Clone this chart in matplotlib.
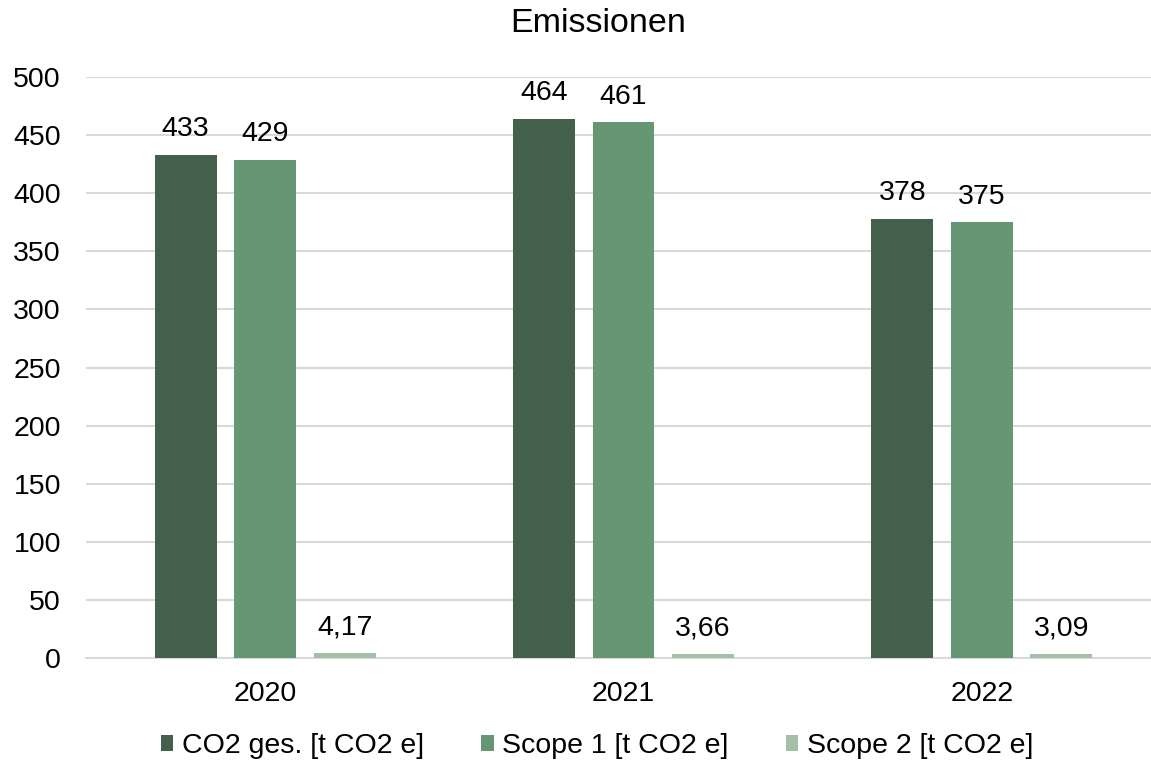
import matplotlib
matplotlib.use("Agg")
import matplotlib.pyplot as plt
import numpy as np

plt.rcParams['font.family'] = ['Liberation Sans', 'DejaVu Sans']

years = ["2020", "2021", "2022"]
series_names = ["CO2 ges. [t CO2 e]", "Scope 1 [t CO2 e]", "Scope 2 [t CO2 e]"]
co2_total = [433, 464, 378]
scope1 = [429, 461, 375]
scope2 = [4.17, 3.66, 3.09]
label_total = ["433", "464", "378"]
label_scope1 = ["429", "461", "375"]
label_scope2 = ["4,17", "3,66", "3,09"]
colors = ["#43614A", "#669673", "#A3BFA8"]

W, H = 1151, 766
fig = plt.figure(figsize=(W / 100, H / 100), dpi=100)
left, right, bottom, top = 86, 1161, 658, 77
ax = fig.add_axes([left / W, 1 - bottom / H, (right - left) / W, (bottom - top) / H])

FS = 20.5
x = np.arange(len(years))
bw = 0.173
step = 0.222
data = [co2_total, scope1, scope2]
labels = [label_total, label_scope1, label_scope2]
for i, (vals, labs, c, name) in enumerate(zip(data, labels, colors, series_names)):
    bars = ax.bar(x + (i - 1) * step, vals, width=bw, color=c, label=name, zorder=3)
    for b, lab in zip(bars, labs):
        ax.annotate(lab, (b.get_x() + b.get_width() / 2, b.get_height()),
                    xytext=(0, 9), textcoords='offset points',
                    ha='center', va='bottom', fontsize=FS, color='#000000')

ax.set_xlim(-0.5, 2.5)
ax.set_ylim(0, 500)
ax.set_yticks(np.arange(0, 501, 50))
ax.set_xticks(x)
ax.set_xticklabels(years)
ax.grid(axis='y', color='#D9D9D9', linewidth=1.5, zorder=0)
ax.set_axisbelow(True)
for s in ['top', 'right', 'left']:
    ax.spines[s].set_visible(False)
ax.spines['bottom'].set_color('#D9D9D9')
ax.spines['bottom'].set_linewidth(1.5)
ax.tick_params(axis='both', length=0, labelsize=FS, colors='#000000')
ax.tick_params(axis='y', pad=18)
ax.tick_params(axis='x', pad=16.5)

fig.text(598 / W, 1 - 23 / H, "Emissionen", ha='center', va='center', fontsize=24.5)

fig.legend(loc='center', bbox_to_anchor=(597 / W, 1 - 746 / H), ncol=3, frameon=False,
           fontsize=FS, handlelength=0.45, handleheight=0.45, handletextpad=0.3,
           columnspacing=2.0)

fig.savefig("out.png", dpi=100)
